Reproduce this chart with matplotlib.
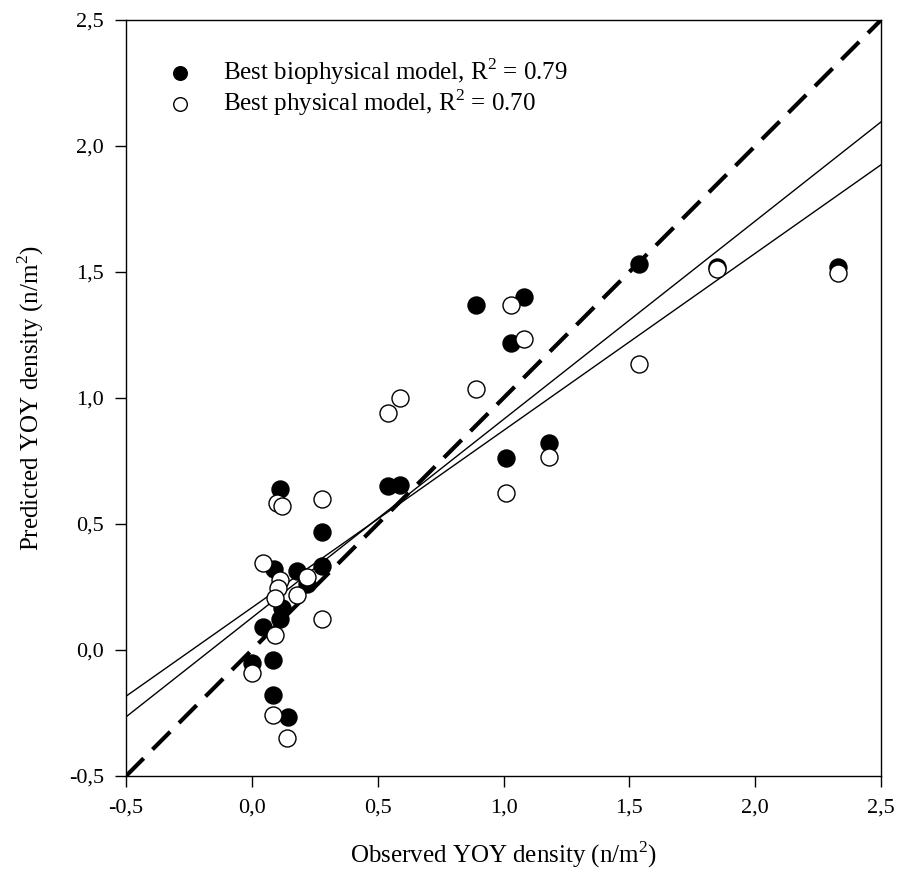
import numpy as np
import matplotlib
matplotlib.use("Agg")
import matplotlib.pyplot as plt
from matplotlib.ticker import FuncFormatter

# observed vs predicted YOY density
obs_bio = [1.54, 2.33, 1.85, 0.89, 1.08, 1.03, 1.18, 1.01, 0.54, 0.59,
           0.28, 0.28, 0.11, 0.09, 0.18, 0.22, 0.12, 0.11, 0.045, 0.0,
           0.085, 0.085, 0.145]
pred_bio = [1.53, 1.52, 1.52, 1.37, 1.40, 1.22, 0.82, 0.76, 0.65, 0.655,
            0.47, 0.335, 0.64, 0.32, 0.315, 0.26, 0.165, 0.125, 0.093, -0.053,
            -0.04, -0.18, -0.265]

obs_phys = [1.54, 2.33, 1.85, 0.89, 1.08, 1.03, 1.18, 1.01, 0.54, 0.59,
            0.28, 0.28, 0.10, 0.12, 0.045, 0.22, 0.11, 0.105, 0.092, 0.178,
            0.092, 0.0, 0.085, 0.138]
pred_phys = [1.135, 1.495, 1.51, 1.035, 1.235, 1.37, 0.765, 0.625, 0.94, 1.0,
             0.60, 0.125, 0.585, 0.57, 0.344, 0.29, 0.278, 0.245, 0.205, 0.218,
             0.06, -0.093, -0.258, -0.35]

# regression fits (slope, intercept) as drawn in the figure
fit_bio = (0.787, 0.128)
fit_phys = (0.703, 0.168)

labels = ["Best biophysical model, R$^2$ = 0.79", "Best physical model, R$^2$ = 0.70"]
ticks = [-0.5, 0.0, 0.5, 1.0, 1.5, 2.0, 2.5]

plt.rcParams["font.family"] = ["Liberation Serif", "DejaVu Serif"]
plt.rcParams["mathtext.fontset"] = "custom"
plt.rcParams["mathtext.rm"] = "Liberation Serif"

fig = plt.figure(figsize=(8.99, 8.88), dpi=100)
ax = fig.add_axes([126 / 899, 1 - 776 / 888, 755 / 899, 756 / 888])

xl = np.array([-0.5, 2.5])
ax.plot(xl, xl, color="black", lw=3, ls=(0, (6, 3)), zorder=2)
for m, b in (fit_bio, fit_phys):
    ax.plot(xl, m * xl + b, color="black", lw=1, zorder=2)

ax.scatter(obs_bio, pred_bio, s=150, c="black", edgecolors="black",
           linewidths=1, zorder=3, label=labels[0])
ax.scatter(obs_phys, pred_phys, s=150, c="white", edgecolors="black",
           linewidths=1, zorder=4, label=labels[1])

ax.set_xlim(-0.5, 2.5)
ax.set_ylim(-0.5, 2.5)
ax.set_xticks(ticks)
ax.set_yticks(ticks)
fmt = FuncFormatter(lambda v, p: f"{v:.1f}".replace(".", ","))
ax.xaxis.set_major_formatter(fmt)
ax.yaxis.set_major_formatter(fmt)
ax.tick_params(direction="out", length=8, width=1, labelsize=16, pad=8)
for sp in ax.spines.values():
    sp.set_linewidth(1)

ax.set_xlabel("Observed YOY density (n/m$^2$)", fontsize=18, labelpad=16)
ax.set_ylabel("Predicted YOY density (n/m$^2$)", fontsize=18, labelpad=16)

leg = ax.legend(loc="upper left", bbox_to_anchor=(0.055, 0.952), frameon=False,
                fontsize=18, markerscale=0.8, handlelength=1.0, handletextpad=1.2,
                labelspacing=0.0, borderpad=0, borderaxespad=0, scatterpoints=1)

fig.savefig("out.png", dpi=100)
